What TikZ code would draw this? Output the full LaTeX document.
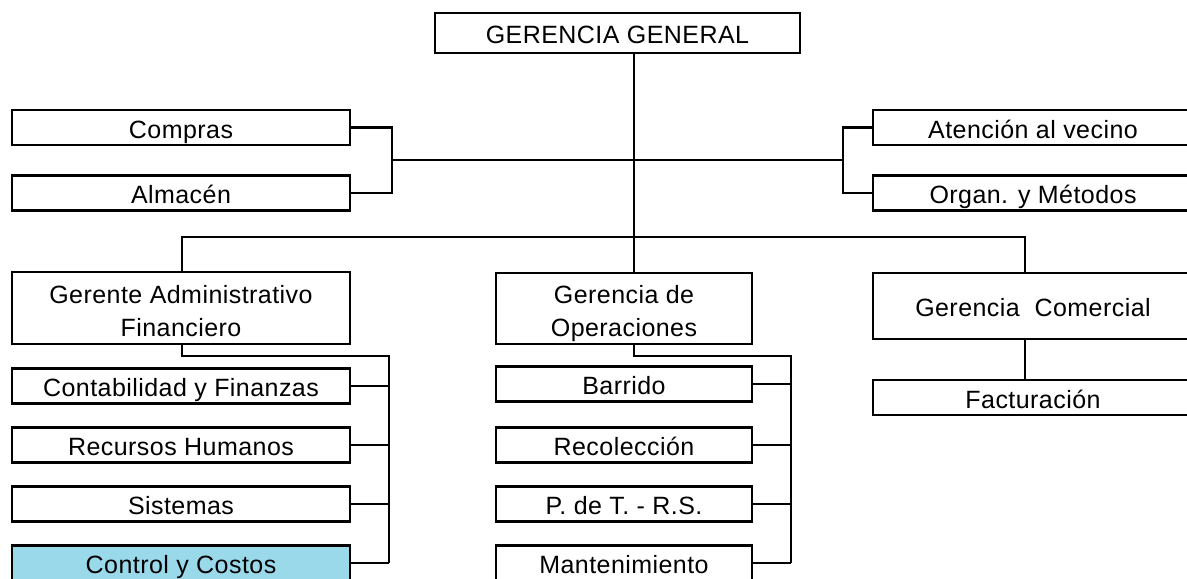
\documentclass[tikz,border=0pt]{standalone}
\usepackage{fontspec}
\setmainfont[LetterSpace=1.8]{Liberation Sans}
\usepackage{tikz}
\usetikzlibrary{calc}
\definecolor{skyfill}{RGB}{153, 217, 234}
\tikzset{
  unit/.style={draw=black, line width=1.3pt, fill=white, inner sep=0pt,
    align=center, font=\fontsize{12.5}{16.5}\selectfont},
  oneline/.style={unit, text height=10.5pt, text depth=0pt},
  twoline/.style={unit, text height=28pt, text depth=0pt},
  wideunit/.style={oneline, minimum width=169pt, minimum height=17.5pt},
  midunit/.style={oneline, minimum width=128pt, minimum height=17.5pt},
  sideunit/.style={oneline, minimum width=160pt, minimum height=17.5pt},
  tie/.style={draw=black, line width=1.2pt},
}

\begin{document}
\begin{tikzpicture}[x=0.5pt, y=-0.5pt]
\useasboundingbox (0, 0) rectangle (1187, 578);

% =:=:=:=:=:=:=:=:=:=:=:=:=:=:=:=:=:=:=
% Top of the chart
% =:=:=:=:=:=:=:=:=:=:=:=:=:=:=:=:=:=:=
\node[oneline, text height=10pt, minimum width=182.5pt, minimum height=20pt]
    (gg) at (617.5, 33) {GERENCIA GENERAL};

% staff units
\node[wideunit] (compras) at (181, 127.5) {Compras};
\node[wideunit] (almacen) at (181, 193) {Almacén};
\node[sideunit] (atencion) at (1033, 127.5) {Atención al vecino};
\node[sideunit] (organ) at (1033, 193) {Organ. y Métodos};

% junction points
\coordinate (trunk) at (634, 237);
\coordinate (lbr) at (392, 160);
\coordinate (rbr) at (843, 160);
\coordinate (tierL) at (182, 237);
\coordinate (tierR) at (1025, 237);

% =:=:=:=:=:=:=:=:=:=:=:=:=:=:=:=:=:=:=
% Second level
% =:=:=:=:=:=:=:=:=:=:=:=:=:=:=:=:=:=:=
\node[twoline, minimum width=169pt, minimum height=36pt]
    (gaf) at (181, 308) {Gerente Administrativo\\Financiero};
\node[twoline, minimum width=128pt, minimum height=35.5pt]
    (gop) at (624, 308.5) {Gerencia de\\Operaciones};
\node[oneline, minimum width=160pt, minimum height=33pt]
    (gcom) at (1033, 306) {Gerencia\ \ Comercial};

% =:=:=:=:=:=:=:=:=:=:=:=:=:=:=:=:=:=:=
% Third level
% =:=:=:=:=:=:=:=:=:=:=:=:=:=:=:=:=:=:=
\node[wideunit] (cont) at (181, 386) {Contabilidad y Finanzas};
\node[wideunit] (rrhh) at (181, 445) {Recursos Humanos};
\node[wideunit] (sist) at (181, 504) {Sistemas};
\node[wideunit, fill=skyfill] (ctrl) at (181, 563) {Control y Costos};

\node[midunit] (barr) at (624, 384) {Barrido};
\node[midunit] (reco) at (624, 445) {Recolección};
\node[midunit] (pdt) at (624, 504) {P. de T. - R.S.};
\node[midunit] (mant) at (624, 563) {Mantenimiento};

\node[sideunit] (fact) at (1033, 397.5) {Facturación};

\coordinate (gafbus) at (389, 356);
\coordinate (gopbus) at (791, 356);

% =:=:=:=:=:=:=:=:=:=:=:=:=:=:=:=:=:=:=
% Connectors
% =:=:=:=:=:=:=:=:=:=:=:=:=:=:=:=:=:=:=
\draw[tie] (gg.south -| trunk) -- (trunk);
\draw[tie] (compras.east) -| (lbr) |- (almacen.east);
\draw[tie] (atencion.west) -| (rbr) |- (organ.west);
\draw[tie] (lbr) -- (rbr);

\draw[tie] (gaf.north -| tierL) -- (tierL) -- (tierR) -- (gcom.north -| tierR);
\draw[tie] (trunk) -- (gop.north -| trunk);
\draw[tie] (gcom.south -| tierR) -- (fact.north -| tierR);

% administrative branch
\draw[tie] (gaf.south -| tierL) |- (gafbus) -- (gafbus |- ctrl.east);
\foreach \n in {cont, rrhh, sist, ctrl}
    \draw[tie] (\n.east) -- (\n.east -| gafbus);

% operations branch
\draw[tie] (gop.south -| trunk) |- (gopbus) -- (gopbus |- mant.east);
\foreach \n in {barr, reco, pdt, mant}
    \draw[tie] (\n.east) -- (\n.east -| gopbus);

\end{tikzpicture}
\end{document}
